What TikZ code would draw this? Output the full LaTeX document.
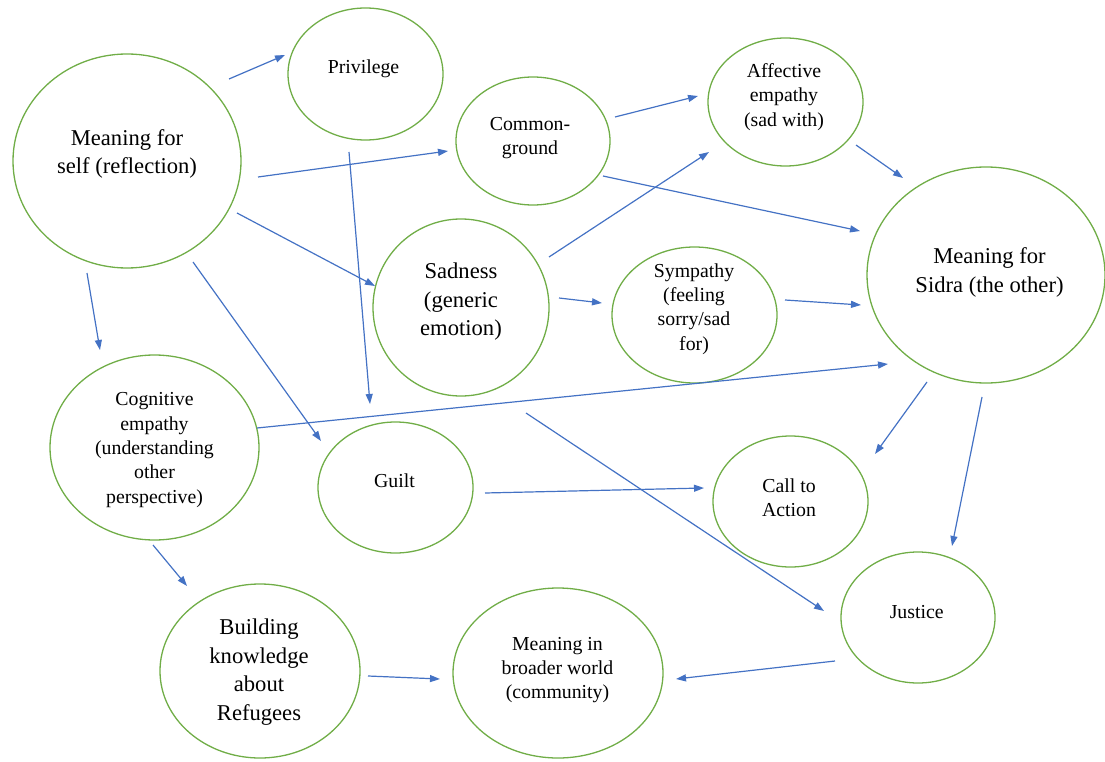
\documentclass[tikz,border=0pt]{standalone}
\usepackage{fontspec}
\setmainfont{Liberation Serif}
\usetikzlibrary{shapes.geometric,arrows.meta}
\definecolor{bubblegreen}{HTML}{70AD47}
\definecolor{linkblue}{HTML}{4472C4}
\tikzset{
  bubble/.style={ellipse, draw=bubblegreen, line width=1.3pt, inner sep=0pt},
  bigtext/.style={align=center, inner sep=0pt, font=\fontsize{22.6}{28.5}\selectfont},
  smalltext/.style={align=center, inner sep=0pt, font=\fontsize{19.8}{24.3}\selectfont},
  link/.style={draw=linkblue, line width=1.2pt, -{Triangle[length=10pt,width=7pt]}}
}
\begin{document}
\begin{tikzpicture}[x=1pt,y=-1pt]
\useasboundingbox (0,0) rectangle (1105,762);

% bubbles
\node[bubble, minimum width=228pt, minimum height=214pt] (self) at (127,161) {};
\node[bubble, minimum width=155pt, minimum height=132pt] (priv) at (365.5,74) {};
\node[bubble, minimum width=154pt, minimum height=128pt] (common) at (533,141) {};
\node[bubble, minimum width=155pt, minimum height=128pt] (affect) at (785.5,102) {};
\node[bubble, minimum width=238pt, minimum height=216pt] (sidra) at (986,275) {};
\node[bubble, minimum width=176pt, minimum height=177pt] (sad) at (461,307.5) {};
\node[bubble, minimum width=165pt, minimum height=136pt] (symp) at (694.5,315) {};
\node[bubble, minimum width=209pt, minimum height=185pt] (cog) at (154.5,447.5) {};
\node[bubble, minimum width=155pt, minimum height=131pt] (guilt) at (395.5,487.5) {};
\node[bubble, minimum width=155pt, minimum height=131pt] (action) at (790.5,501.5) {};
\node[bubble, minimum width=154pt, minimum height=131pt] (justice) at (918,617.5) {};
\node[bubble, minimum width=200pt, minimum height=174pt] (build) at (260,671) {};
\node[bubble, minimum width=210pt, minimum height=170pt] (world) at (558,673) {};

% labels
\node[bigtext] (t-self) at (127,154) {Meaning for\\self (reflection)};
\node[smalltext] (t-priv) at (363.5,69) {Privilege};
\node[smalltext] (t-common) at (530,138) {Common-\\ground};
\node[smalltext] (t-affect) at (784,97) {Affective\\empathy\\(sad with)};
\node[bigtext] (t-sidra) at (989.5,272.5) {Meaning for\\Sidra (the other)};
\node[bigtext] (t-sad) at (461,302) {Sadness\\(generic\\emotion)};
\node[smalltext] (t-symp) at (694,309) {Sympathy\\(feeling\\sorry/sad\\for)};
\node[smalltext] (t-cog) at (154.5,450) {Cognitive\\empathy\\(understanding\\other\\perspective)};
\node[smalltext] (t-guilt) at (394.5,481) {Guilt};
\node[smalltext] (t-action) at (789,497.5) {Call to\\Action};
\node[smalltext] (t-justice) at (916.7,612) {Justice};
\node[bigtext] (t-build) at (259,672) {Building\\knowledge\\about\\Refugees};
\node[smalltext] (t-world) at (557.5,670) {Meaning in\\broader world\\(community)};

% free connector ends
\coordinate (a1s) at (229,79);   \coordinate (a1e) at (285,55);
\coordinate (a2s) at (258,177);  \coordinate (a2e) at (448,151);
\coordinate (a3s) at (237,213);  \coordinate (a3e) at (375,286);
\coordinate (a4s) at (87,273);   \coordinate (a4e) at (100,350);
\coordinate (a5s) at (193,262);  \coordinate (a5e) at (321,441);
\coordinate (a6s) at (349,152);  \coordinate (a6e) at (370,404);
\coordinate (a7s) at (615,117);  \coordinate (a7e) at (698,96);
\coordinate (a8s) at (603,176);  \coordinate (a8e) at (860,231);
\coordinate (a9s) at (549,257);  \coordinate (a9e) at (709,152);
\coordinate (a10s) at (559,298); \coordinate (a10e) at (602,303);
\coordinate (a11s) at (856,145); \coordinate (a11e) at (903,178);
\coordinate (a12s) at (785,300); \coordinate (a12e) at (861,305);
\coordinate (a13s) at (257,428); \coordinate (a13e) at (888,364);
\coordinate (a14s) at (927,382); \coordinate (a14e) at (875,454);
\coordinate (a15s) at (982,397); \coordinate (a15e) at (952,546);
\coordinate (a16s) at (485,493); \coordinate (a16e) at (704,488);
\coordinate (a17s) at (526,413); \coordinate (a17e) at (824,611);
\coordinate (a18s) at (835,661); \coordinate (a18e) at (676,679);
\coordinate (a19s) at (153,545); \coordinate (a19e) at (187,586);
\coordinate (a20s) at (368,676); \coordinate (a20e) at (440,679);

% connectors
\foreach \i in {1,...,20} {
  \draw[link] (a\i s) -- (a\i e);
}
\end{tikzpicture}
\end{document}
